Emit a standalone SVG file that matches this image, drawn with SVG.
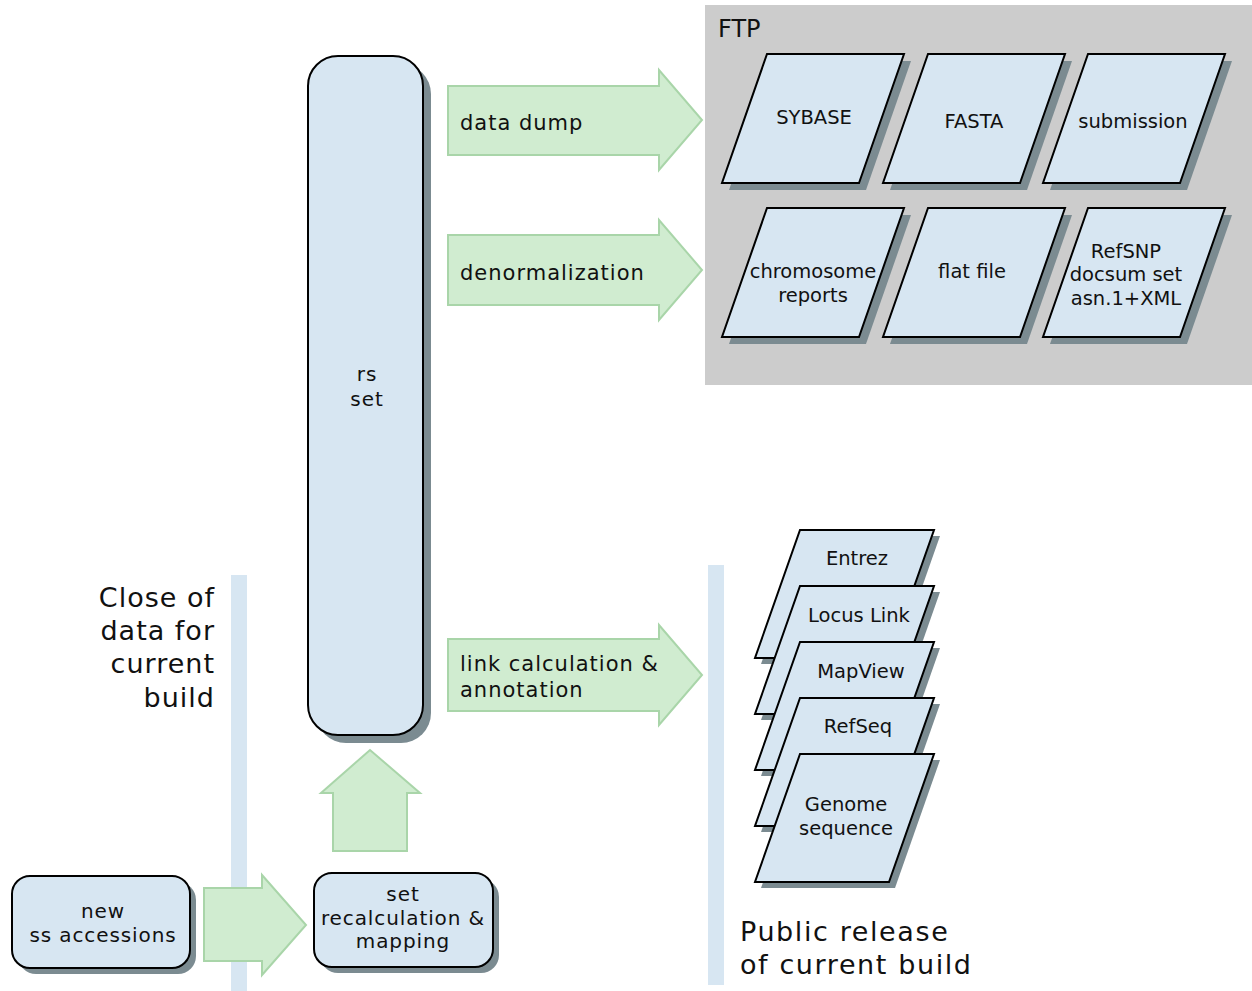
<svg xmlns="http://www.w3.org/2000/svg" width="1252" height="991" viewBox="0 0 1252 991">
<defs>
<style>
text{font-family:"DejaVu Sans","Liberation Sans",sans-serif;fill:#111;}
.node{fill:#d7e6f2;stroke:#000;stroke-width:2;}
.shadow{fill:#7b8b91;}
.arrow{fill:#d0ecd0;stroke:#a9d5a9;stroke-width:2;}
.bar{fill:#d7e6f2;}
.lbl{font-size:19.5px;text-anchor:middle;}
.rl{font-size:20px;letter-spacing:0.9px;text-anchor:middle;}
.alb{font-size:21px;letter-spacing:1px;}
.big{font-size:27px;letter-spacing:1px;}
.big2{font-size:27px;letter-spacing:1.6px;}
</style>
<path id="para" d="M45,0 H182 L137,129 H0 Z"/>
<path id="spara" d="M45,0 H179 L134,128 H0 Z"/>
</defs>
<rect x="0" y="0" width="1252" height="991" fill="#fff"/>
<rect id="ftp-panel" x="705" y="5" width="547" height="380" fill="#cccccc"/>
<text x="718" y="37" style="font-size:24px">FTP</text>
<rect class="bar" x="231" y="575" width="16" height="416"/>
<rect class="bar" x="708" y="565" width="16" height="420"/>
<text class="big" x="215" y="607" text-anchor="end">Close of</text>
<text class="big" x="215" y="640" text-anchor="end">data for</text>
<text class="big" x="215" y="673" text-anchor="end">current</text>
<text class="big" x="215" y="707" text-anchor="end">build</text>
<text class="big2" x="740" y="941">Public release</text>
<text class="big2" x="740" y="974">of current build</text>
<g id="connectors">
<path class="arrow" d="M448,86 H659 V70 L702,120 L659,170 V155 H448 Z"/>
<path class="arrow" d="M448,235 H659 V220 L702,270 L659,320 V305 H448 Z"/>
<path class="arrow" d="M448,639 H659 V625 L702,675 L659,725 V711 H448 Z"/>
<path class="arrow" d="M333,851 V793 H321 L370,750 L420,793 H407 V851 Z"/>
<path class="arrow" d="M204,888 H262 V875 L306,925 L262,975 V961 H204 Z"/>
<text class="alb" x="460" y="130">data dump</text>
<text class="alb" x="460" y="280">denormalization</text>
<text class="alb" x="460" y="671">link calculation &amp;</text>
<text class="alb" x="460" y="697">annotation</text>
</g>
<g id="rs-set">
<rect class="shadow" x="316" y="64" width="115" height="679" rx="30"/>
<rect class="node" x="308" y="56" width="115" height="679" rx="30"/>
<text class="rl" x="367" y="381">rs</text>
<text class="rl" x="367" y="406">set</text>
</g>
<g id="new-ss">
<rect class="shadow" x="18" y="882" width="178" height="92" rx="18"/>
<rect class="node" x="12" y="876" width="178" height="92" rx="18"/>
<text class="rl" x="103" y="918">new</text>
<text class="rl" x="103" y="942">ss accessions</text>
</g>
<g id="set-recalc">
<rect class="shadow" x="320" y="879" width="179" height="94" rx="18"/>
<rect class="node" x="314" y="873" width="179" height="94" rx="18"/>
<text class="rl" x="403" y="901">set</text>
<text class="rl" x="403" y="925">recalculation &amp;</text>
<text class="rl" x="403" y="948">mapping</text>
</g>
<g id="sybase" transform="translate(722,54)">
<use href="#para" class="shadow" x="7" y="7"/><use href="#para" class="node"/>
<text class="lbl" x="92" y="70">SYBASE</text>
</g>
<g id="fasta" transform="translate(883,54)">
<use href="#para" class="shadow" x="7" y="7"/><use href="#para" class="node"/>
<text class="lbl" x="91" y="74">FASTA</text>
</g>
<g id="submission" transform="translate(1043,54)">
<use href="#para" class="shadow" x="7" y="7"/><use href="#para" class="node"/>
<text class="lbl" x="90" y="74">submission</text>
</g>
<g id="chromosome" transform="translate(722,208)">
<use href="#para" class="shadow" x="7" y="7"/><use href="#para" class="node"/>
<text class="lbl" x="91" y="70">chromosome</text>
<text class="lbl" x="91" y="94">reports</text>
</g>
<g id="flatfile" transform="translate(883,208)">
<use href="#para" class="shadow" x="7" y="7"/><use href="#para" class="node"/>
<text class="lbl" x="89" y="70">flat file</text>
</g>
<g id="refsnp" transform="translate(1043,208)">
<use href="#para" class="shadow" x="7" y="7"/><use href="#para" class="node"/>
<text class="lbl" x="83" y="50">RefSNP</text>
<text class="lbl" x="83" y="73">docsum set</text>
<text class="lbl" x="83" y="97">asn.1+XML</text>
</g>
<g id="entrez" transform="translate(755,530)">
<use href="#spara" class="shadow" x="6" y="6"/><use href="#spara" class="node"/>
<text class="lbl" x="102" y="35">Entrez</text>
</g>
<g id="locuslink" transform="translate(755,586)">
<use href="#spara" class="shadow" x="6" y="6"/><use href="#spara" class="node"/>
<text class="lbl" x="104" y="36">Locus Link</text>
</g>
<g id="mapview" transform="translate(755,642)">
<use href="#spara" class="shadow" x="6" y="6"/><use href="#spara" class="node"/>
<text class="lbl" x="106" y="36">MapView</text>
</g>
<g id="refseq" transform="translate(755,698)">
<use href="#spara" class="shadow" x="6" y="6"/><use href="#spara" class="node"/>
<text class="lbl" x="103" y="35">RefSeq</text>
</g>
<g id="genome" transform="translate(755,754)">
<use href="#spara" class="shadow" x="6" y="6"/><use href="#spara" class="node"/>
<text class="lbl" x="91" y="57">Genome</text>
<text class="lbl" x="91" y="81">sequence</text>
</g>
</svg>
